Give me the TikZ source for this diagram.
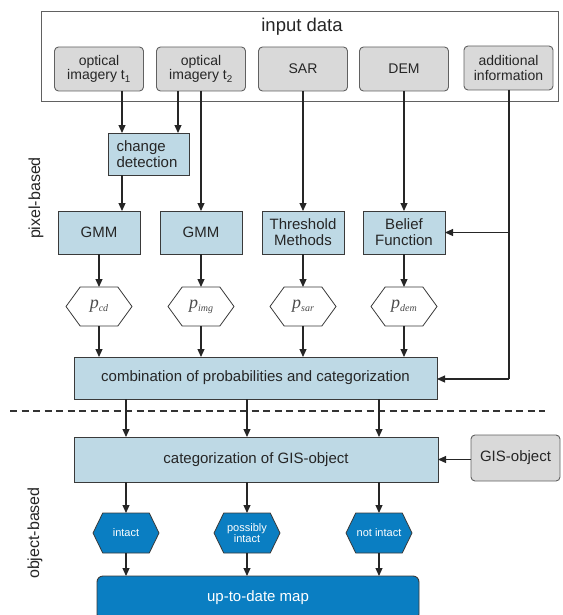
\documentclass[tikz,border=0pt]{standalone}
\usepackage{fontspec}
\setmainfont{Liberation Sans}
\newfontfamily\serifit{Liberation Serif}
\usetikzlibrary{arrows.meta,shapes.symbols}
\definecolor{lblue}{HTML}{BED9E5}
\definecolor{dblue}{HTML}{0A7EC2}
\definecolor{lgray}{HTML}{D9D9D9}
\definecolor{edge}{HTML}{3A3A3A}
\newcommand{\fs}[1]{\fontsize{#1}{#1}\selectfont}
\newcommand{\pl}[1]{{\color{black!70}\serifit\itshape\fs{18}p\raisebox{-0.35ex}{\fs{10}#1}}}
\tikzset{
  x=1pt, y=-1pt,
  every node/.style={inner sep=0pt, outer sep=0pt, text=black!85},
  inbox/.style={draw=edge!80, fill=lgray, rounded corners=4pt, line width=0.9pt,
    minimum width=89pt, minimum height=44pt, align=center, font=\fs{14}\linespread{1.05}\selectfont},
  procbox/.style={draw=edge, fill=lblue, line width=0.9pt,
    minimum width=82pt, minimum height=43pt, align=center, font=\fs{15}\linespread{1.05}\selectfont},
  widebox/.style={procbox, minimum width=363pt},
  phex/.style={draw=edge, fill=white, line width=0.8pt, shape=signal, signal to=west and east,
    signal pointer angle=108, minimum width=66pt, minimum height=39pt},
  bhex/.style={draw=edge, fill=dblue, line width=0.8pt, shape=signal, signal to=west and east,
    signal pointer angle=128, minimum width=66pt, minimum height=40pt,
    text=white, align=center, font=\fs{11}\linespread{1.05}\selectfont},
  conn/.style={draw=black!85, line width=1.1pt, -{Triangle[length=8pt,width=7pt]}},
  plain/.style={draw=black!85, line width=1.1pt},
  sidelabel/.style={rotate=90, font=\fs{16}, text=black!85}
}
\begin{document}
\begin{tikzpicture}
\useasboundingbox (0,0) rectangle (562,615);

% input frame
\node[draw=edge!80, line width=0.9pt, minimum width=517pt, minimum height=90pt, anchor=north west] (frame) at (41,11) {};
\node[font=\fs{18.5}, text=black!85] (title) at (302,27) {input data};

\node[inbox] (opt1) at (99,69) {optical\\imagery t\textsubscript{1}};
\node[inbox] (opt2) at (201,69) {optical\\imagery t\textsubscript{2}};
\node[inbox] (sar) at (303,69) {SAR};
\node[inbox] (dem) at (404,69) {DEM};
\node[inbox] (add) at (508.5,68) {additional\\information};

% pixel-based
\node[procbox, align=left, text width=64pt, minimum width=81pt, minimum height=42pt] (cd) at (148.5,154) {change\\detection};
\node[procbox] (gmm1) at (99,232.5) {GMM};
\node[procbox] (gmm2) at (201,232.5) {GMM};
\node[procbox] (thr) at (303,232.5) {Threshold\\Methods};
\node[procbox] (bel) at (404,232.5) {Belief\\Function};

\node[phex] (pcd) at (99,306.5) {\pl{cd}};
\node[phex] (pimg) at (201,306.5) {\pl{img}};
\node[phex] (psar) at (303,306.5) {\pl{sar}};
\node[phex] (pdem) at (404,306.5) {\pl{dem}};

\node[widebox, minimum height=42pt] (comb) at (255.5,378) {combination of probabilities and categorization};

% object-based
\node[widebox, minimum width=364pt, minimum height=45pt] (cat) at (256,459.5) {categorization of GIS-object};
\node[inbox, font=\fs{15}, minimum height=46pt] (gis) at (515.5,458) {GIS-object};

\node[bhex] (h1) at (126,533) {intact};
\node[bhex] (h2) at (247,533) {possibly\\intact};
\node[bhex] (h3) at (379,533) {not intact};

\node[draw=edge, fill=dblue, line width=0.9pt, rounded corners=6pt, minimum width=322pt, minimum height=44pt,
  text=white, font=\fs{15}] (map) at (258,598) {up-to-date map};

% side labels
\node[sidelabel] (lpix) at (36,198) {pixel-based};
\node[sidelabel] (lobj) at (35,533) {object-based};

% dashed separator
\coordinate (dl) at (10,411);
\coordinate (dr) at (545,411);
\draw[line width=1.3pt, black!80, dash pattern=on 7pt off 4.5pt] (dl) -- (dr);

% connectors
\coordinate (x1) at (122,0);
\coordinate (x2) at (178,0);
\coordinate (xa) at (509,0);
\coordinate (yb) at (0,232.5);
\coordinate (yc) at (0,379);
\draw[conn] (opt1.south -| x1) -- (cd.north -| x1);
\draw[conn] (opt2.south -| x2) -- (cd.north -| x2);
\draw[conn] (cd.south -| x1) -- (gmm1.north -| x1);
\draw[conn] (opt2.south) -- (gmm2.north);
\draw[conn] (sar.south) -- (thr.north);
\draw[conn] (dem.south) -- (bel.north);
\draw[plain] (add.south -| xa) -- (yc -| xa);
\draw[conn] (yb -| xa) -- (bel.east);
\draw[conn] (yc -| xa) -- (comb.east |- yc);

\draw[conn] (gmm1.south) -- (pcd.north);
\draw[conn] (gmm2.south) -- (pimg.north);
\draw[conn] (thr.south) -- (psar.north);
\draw[conn] (bel.south) -- (pdem.north);
\draw[conn] (pcd.south) -- (comb.north -| pcd.south);
\draw[conn] (pimg.south) -- (comb.north -| pimg.south);
\draw[conn] (psar.south) -- (comb.north -| psar.south);
\draw[conn] (pdem.south) -- (comb.north -| pdem.south);

\draw[conn] (comb.south -| h1.north) -- (cat.north -| h1.north);
\draw[conn] (comb.south -| h2.north) -- (cat.north -| h2.north);
\draw[conn] (comb.south -| h3.north) -- (cat.north -| h3.north);
\draw[conn] (gis.west |- cat.east) -- (cat.east);

\draw[conn] (cat.south -| h1.north) -- (h1.north);
\draw[conn] (cat.south -| h2.north) -- (h2.north);
\draw[conn] (cat.south -| h3.north) -- (h3.north);
\draw[conn] (h1.south) -- (map.north -| h1.south);
\draw[conn] (h2.south) -- (map.north -| h2.south);
\draw[conn] (h3.south) -- (map.north -| h3.south);
\end{tikzpicture}
\end{document}
